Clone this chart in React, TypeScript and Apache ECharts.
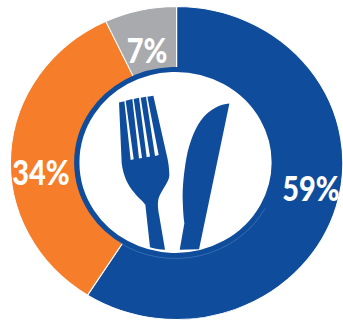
import React, { useEffect, useRef } from "react";
import * as echarts from "echarts";

const categories = ["Blue", "Orange", "Gray"];
const shares = [59, 34, 7];
const sliceColors = ["#0F4D9C", "#F67E2A", "#A9AAAE"];

const CANVAS_W = 323;
const CANVAS_H = 322;
const STRETCH_X = 343 / CANVAS_W;
const CX = 166.3;
const CY = 163;

const FORK =
  "M147 128 L163 124 L182 300 L191 298 L167 122 L187 117 L207 296 L216 294 L191 117 L207 113 L230 292 L240 290 L212 113 L228 110 L255 288 L266 285 L232 110 L250 107 L290 285 C294 300 298 325 298 345 C297 365 282 380 270 405 C262 420 262 440 268 470 L285 570 C270 569 253 566 240 562 L226 435 C215 420 200 410 190 395 C175 378 160 350 155 310 Z";
const KNIFE =
  "M478 131 C450 132 420 150 400 172 C378 197 358 245 349 295 C341 340 337 385 338 420 C339 450 340 470 343 490 L329 570 L387 568 Z";

echarts.graphic.registerShape("forkShape", echarts.graphic.extendPath(FORK, {}));
echarts.graphic.registerShape("knifeShape", echarts.graphic.extendPath(KNIFE, {}));

export default function App() {
  const ref = useRef<HTMLDivElement>(null);

  useEffect(() => {
    const chart = echarts.init(ref.current!, undefined, { renderer: "svg" });
    const iconScaleX = 1 / 3 / STRETCH_X;
    const iconPlacement = { x: 70 / STRETCH_X, y: 60, scaleX: iconScaleX, scaleY: 1 / 3, z: 12 };
    const labelCenters = [
      [311, 188],
      [41, 172],
      [147, 50],
    ];

    chart.setOption({
      animation: false,
      backgroundColor: "#fff",
      series: [
        {
          type: "pie",
          silent: true,
          center: [CX, CY],
          radius: [88, 156.5],
          startAngle: 90,
          clockwise: true,
          label: { show: false },
          labelLine: { show: false },
          itemStyle: { borderColor: "#fff", borderWidth: 1 },
          data: categories.map((name, i) => ({
            name,
            value: shares[i],
            itemStyle: { color: sliceColors[i] },
          })),
        },
      ],
      graphic: [
        {
          type: "circle",
          z: 10,
          shape: { cx: CX - 1, cy: CY - 0.5, r: 93 },
          style: { fill: "#fff", stroke: "#0F4D9C", lineWidth: 5 },
        },
        {
          type: "arc",
          z: 11,
          shape: { cx: CX - 1, cy: CY - 0.5, r: 96, startAngle: 0.5, endAngle: 2.15 },
          style: { stroke: "#4F7DB8", lineWidth: 0.6, fill: "none" },
        },
        { type: "forkShape", ...iconPlacement, style: { fill: "#0F4D9C" } },
        { type: "knifeShape", ...iconPlacement, style: { fill: "#0F4D9C" } },
        ...shares.map((value, i) => ({
          type: "text",
          z: 13,
          x: labelCenters[i][0] / STRETCH_X,
          y: labelCenters[i][1],
          scaleX: 0.8,
          style: {
            text: `${value}%`,
            fill: "#fff",
            font: "900 34px Lato",
            textAlign: "center",
            textVerticalAlign: "middle",
          },
        })),
      ],
    });

    return () => chart.dispose();
  }, []);

  return (
    <div
      ref={ref}
      style={{
        position: "fixed",
        left: 0,
        top: 0,
        width: CANVAS_W,
        height: CANVAS_H,
        transform: `scaleX(${STRETCH_X})`,
        transformOrigin: "0 0",
      }}
    />
  );
}
